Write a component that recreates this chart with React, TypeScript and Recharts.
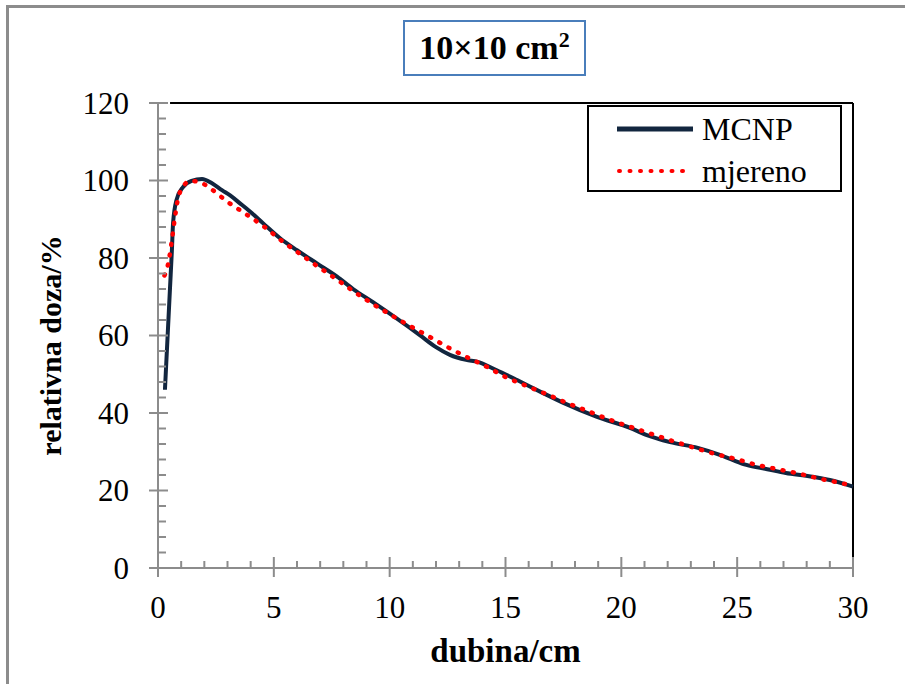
import React from "react";
import { LineChart, Line, XAxis, YAxis, Legend, ReferenceLine } from "recharts";

// MCNP simulacija
const mcnpDepth = [0.3, 0.52, 0.6, 0.65, 0.8, 1.08, 1.45, 1.9, 2.33, 2.76, 3.1, 3.54, 3.97, 4.53, 5.27, 6.0, 6.86, 7.73, 8.42, 9.28, 10.3, 11.3, 12.0, 12.6, 13.3, 13.8, 14.6, 15.5, 16.6, 17.5, 18.95, 20.4, 21.1, 22.1, 23.3, 24.25, 24.8, 25.4, 26.3, 27.1, 28.1, 29.0, 30.0];
const mcnpDose = [46, 72.5, 82, 89, 95, 98.3, 99.9, 100.4, 99.3, 97.5, 96.2, 94.1, 92, 89, 85.1, 82, 78.6, 75.2, 72.0, 68.6, 64.4, 60.1, 57, 55, 53.7, 53.2, 51.1, 48.5, 45.2, 42.6, 39, 36.1, 34.3, 32.5, 31, 29.2, 27.9, 26.6, 25.5, 24.5, 23.7, 22.7, 21.0];

// mjereno
const mjerenoDepth = [0.28, 0.38, 0.47, 0.6, 0.72, 0.86, 1.06, 1.4, 1.9, 2.3, 3.0, 3.8, 4.6, 5.35, 6.1, 6.85, 7.64, 8.42, 9.2, 10.0, 10.8, 11.65, 12.5, 13.3, 14.2, 15.0, 15.9, 16.8, 17.65, 18.55, 19.4, 20.3, 21.2, 22.1, 23.05, 23.95, 24.9, 25.85, 26.75, 27.7, 28.6, 29.5, 30.0];
const mjerenoDose = [75.5, 77, 79.5, 84.6, 90, 95.2, 98.2, 99.9, 99.3, 97.8, 94.5, 91.3, 88, 84.4, 81.2, 78, 74.8, 71.5, 68.4, 65.5, 62.7, 59.9, 57, 54.5, 51.9, 49.3, 47, 44.8, 42.6, 40.5, 38.5, 36.6, 34.8, 33, 31.2, 29.6, 28.2, 26.6, 25.5, 24.3, 23, 21.9, 21.2];

const xTicks = [0, 1, 2, 3, 4, 5, 6, 7, 8, 9, 10, 11, 12, 13, 14, 15, 16, 17, 18, 19, 20, 21, 22, 23, 24, 25, 26, 27, 28, 29, 30];
const xMajor = [0, 5, 10, 15, 20, 25, 30];
const yTicks = [0, 4, 8, 12, 16, 20, 24, 28, 32, 36, 40, 44, 48, 52, 56, 60, 64, 68, 72, 76, 80, 84, 88, 92, 96, 100, 104, 108, 112, 116, 120];
const yMajor = [0, 20, 40, 60, 80, 100, 120];

const mcnpData = mcnpDepth.map((d, i) => ({ depth: d, dose: mcnpDose[i] }));
const mjerenoData = mjerenoDepth.map((d, i) => ({ depth: d, dose: mjerenoDose[i] }));

const FONT = "Liberation Serif, Tinos, Times New Roman, DejaVu Serif, serif";
const AXIS = "#8c8c8c";
const NAVY = "#12263f";

function YTick({ x, y, payload }: any) {
    const major = yMajor.includes(payload.value);
    return (
        <g>
            <line x1={major ? x - 9 : x} x2={major ? x + 10 : x + 8} y1={y} y2={y} stroke={AXIS} strokeWidth={2} />
            {major && (
                <text x={x - 29} y={y} textAnchor="end" dominantBaseline="central" fontSize={31} style={{ fontFamily: FONT }} fill="#000">
                    {payload.value}
                </text>
            )}
        </g>
    );
}

function XTick({ x, y, payload }: any) {
    const major = xMajor.includes(payload.value);
    return (
        <g>
            <line x1={x} x2={x} y1={major ? y - 11 : y - 7} y2={major ? y + 9 : y} stroke={AXIS} strokeWidth={2} />
            {major && (
                <text x={x} y={y + 50} textAnchor="middle" fontSize={31} style={{ fontFamily: FONT }} fill="#000">
                    {payload.value}
                </text>
            )}
        </g>
    );
}

function LegendBox({ payload }: any) {
    return (
        <svg width={255} height={87} style={{ display: "block" }}>
            <rect x={1} y={1} width={253} height={85} fill="#fff" stroke="#000" strokeWidth={2} />
            {(payload || []).map((entry: any, i: number) => {
                const cy = 24 + i * 42;
                const dotted = entry.value === "mjereno";
                return (
                    <g key={entry.value}>
                        <line
                            x1={dotted ? 32 : 30}
                            x2={dotted ? 102 : 106}
                            y1={cy}
                            y2={cy}
                            stroke={dotted ? "#ff0000" : NAVY}
                            strokeWidth={dotted ? 4 : 5}
                            strokeDasharray={dotted ? "1 9.5" : undefined}
                            strokeLinecap={dotted ? "round" : "butt"}
                        />
                        <text x={115} y={cy} dominantBaseline="central" fontSize={32} style={{ fontFamily: FONT }} fill="#000">
                            {entry.value}
                        </text>
                    </g>
                );
            })}
        </svg>
    );
}

export default function App() {
    return (
        <div style={{ position: "absolute", left: 0, top: 0, width: 905, height: 684, background: "#fff" }}>
            {/* okvir slike */}
            <div style={{ position: "absolute", left: 6, top: 5, width: 905, height: 684, borderLeft: `3px solid ${AXIS}`, borderTop: `3px solid ${AXIS}` }} />

            <LineChart width={905} height={684} margin={{ top: 103, right: 52, left: 58, bottom: 56 }} style={{ position: "absolute", left: 0, top: 0 }}>
                <XAxis
                    type="number"
                    dataKey="depth"
                    domain={[0, 30]}
                    ticks={xTicks}
                    interval={0}
                    height={60}
                    tickSize={0}
                    tickMargin={0}
                    tickLine={false}
                    axisLine={{ stroke: AXIS, strokeWidth: 2 }}
                    tick={<XTick />}
                    allowDuplicatedCategory={false}
                    label={{
                        content: ({ viewBox }: any) => (
                            <text x={viewBox.x + viewBox.width / 2} y={viewBox.y + 94} textAnchor="middle" fontSize={33} fontWeight="bold" style={{ fontFamily: FONT }} fill="#000">
                                dubina/cm
                            </text>
                        ),
                    }}
                />
                <YAxis
                    type="number"
                    domain={[0, 120]}
                    ticks={yTicks}
                    interval={0}
                    width={100}
                    tickSize={0}
                    tickMargin={0}
                    tickLine={false}
                    axisLine={{ stroke: AXIS, strokeWidth: 2 }}
                    tick={<YTick />}
                    label={{
                        content: ({ viewBox }: any) => {
                            const cx = viewBox.x - 8;
                            const cy = viewBox.y + viewBox.height / 2 + 10;
                            return (
                                <text x={cx} y={cy} transform={`rotate(-90, ${cx}, ${cy})`} textAnchor="middle" dominantBaseline="central" fontSize={30} fontWeight="bold" style={{ fontFamily: FONT }} fill="#000">
                                    relativna doza/%
                                </text>
                            );
                        },
                    }}
                />
                <ReferenceLine segment={[{ x: 0.52, y: 120 }, { x: 30, y: 120 }]} stroke="#000" strokeWidth={2} ifOverflow="visible" />
                <ReferenceLine segment={[{ x: 30, y: 120 }, { x: 30, y: 2.8 }]} stroke="#000" strokeWidth={2} ifOverflow="visible" />
                <Line
                    data={mcnpData}
                    dataKey="dose"
                    name="MCNP"
                    type="monotone"
                    stroke={NAVY}
                    strokeWidth={4}
                    dot={false}
                    activeDot={false}
                    isAnimationActive={false}
                />
                <Line
                    data={mjerenoData}
                    dataKey="dose"
                    name="mjereno"
                    type="monotone"
                    stroke="#ff0000"
                    strokeWidth={4.5}
                    strokeDasharray="1 9.5"
                    strokeLinecap="round"
                    dot={false}
                    activeDot={false}
                    isAnimationActive={false}
                />
                <Legend
                    layout="vertical"
                    align="center"
                    verticalAlign="middle"
                    content={<LegendBox />}
                    wrapperStyle={{ position: "absolute", left: 587, top: 105, width: 255, height: 87 }}
                />
            </LineChart>

            {/* naslov */}
            <div
                style={{
                    position: "absolute",
                    left: 403,
                    top: 20,
                    width: 183,
                    height: 56,
                    boxSizing: "border-box",
                    border: "2px solid #4a7ebb",
                    fontFamily: FONT,
                    fontWeight: "bold",
                    fontSize: 34,
                    lineHeight: "52px",
                    textAlign: "center",
                    color: "#000",
                }}
            >
                10×10 cm<sup style={{ fontSize: 22, lineHeight: 0 }}>2</sup>
            </div>
        </div>
    );
}
